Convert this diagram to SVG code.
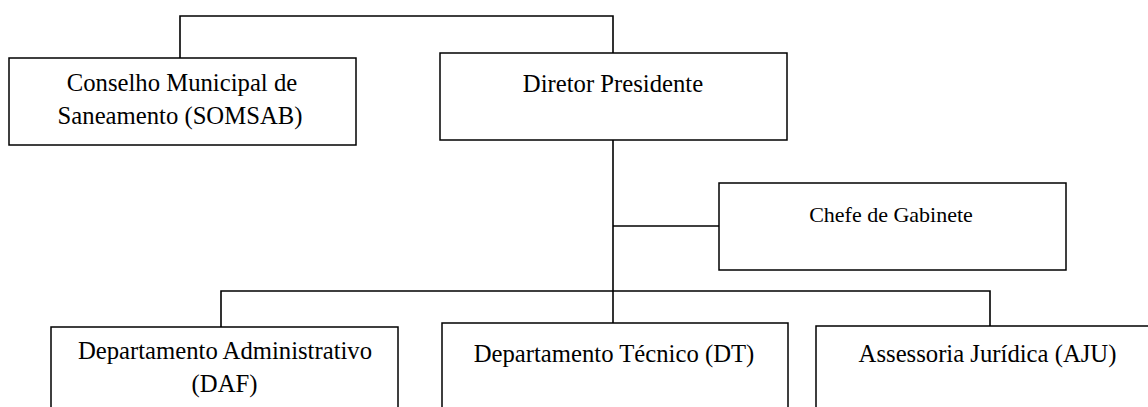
<svg xmlns="http://www.w3.org/2000/svg" width="1148" height="407" viewBox="0 0 1148 407">
<style>
.box{fill:#fff;stroke:#000;stroke-width:1.5}
.t{font-family:"Liberation Serif","Times New Roman",serif;font-size:24.7px;fill:#000;text-anchor:middle}
.s{font-size:22px}
.c{fill:none;stroke:#000;stroke-width:1.6}
</style>
<rect width="1148" height="407" fill="#fff"/>
<g id="connectors">
<path class="c" d="M180,58 V16 H613 V53"/>
<path class="c" d="M613,140 V323"/>
<path class="c" d="M613,226 H719"/>
<path class="c" d="M221,327 V291 H990 V326"/>
</g>
<g id="conselho">
<rect class="box" x="9" y="58" width="347" height="87"/>
<text class="t" x="182" y="91">Conselho Municipal de</text>
<text class="t" x="180" y="124">Saneamento (SOMSAB)</text>
</g>
<g id="diretor">
<rect class="box" x="440" y="53" width="347" height="87"/>
<text class="t" x="613" y="92">Diretor Presidente</text>
</g>
<g id="chefe">
<rect class="box" x="719" y="183" width="347" height="87"/>
<text class="t s" x="891" y="222">Chefe de Gabinete</text>
</g>
<g id="daf">
<rect class="box" x="51" y="327" width="347" height="100"/>
<text class="t" x="225" y="359">Departamento Administrativo</text>
<text class="t" x="224.5" y="392">(DAF)</text>
</g>
<g id="dt">
<rect class="box" x="442" y="323" width="346" height="100"/>
<text class="t" x="614" y="362">Departamento Técnico (DT)</text>
</g>
<g id="aju">
<rect class="box" x="816" y="326" width="347" height="100"/>
<text class="t" x="987.5" y="362">Assessoria Jurídica (AJU)</text>
</g>
</svg>
